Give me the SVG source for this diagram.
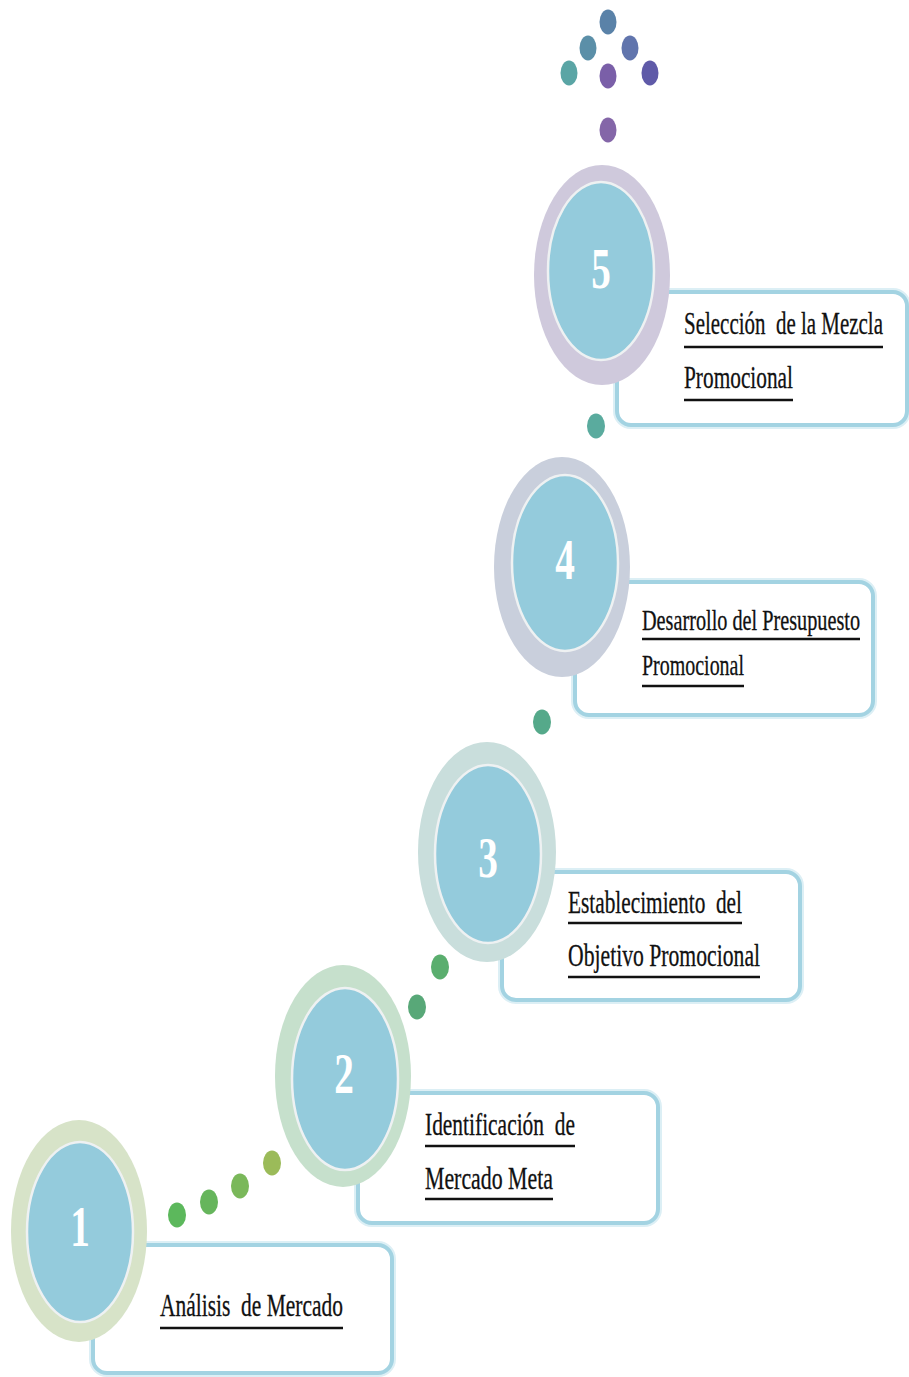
<svg xmlns="http://www.w3.org/2000/svg" width="909" height="1377" viewBox="0 0 909 1377">
  <style>
    .box { fill: #ffffff; stroke: #a3d3e2; stroke-width: 4; }
    .halo { fill: none; stroke: #dceff5; stroke-width: 8; }
    .core { fill: #94cbdc; stroke: #eef1f2; stroke-width: 2.5; }
    .num { font-family: "Liberation Serif", serif; font-size: 56px; font-weight: bold; fill: #ffffff; text-anchor: middle; }
    .lbl { font-family: "Liberation Serif", serif; font-size: 32px; fill: #111111; stroke: #111111; stroke-width: 0.3; }
    .lbl4 { font-size: 30px; }
    .ul { stroke: #111111; stroke-width: 2.5; }
  </style>

  <rect x="0" y="0" width="909" height="1377" fill="#ffffff"/>

  <!-- dotted path connecting the steps -->
  <g id="connectors">
    <ellipse cx="608" cy="22" rx="8.5" ry="12.5" fill="#5a82a8"/>
    <ellipse cx="588" cy="48" rx="8.5" ry="12.5" fill="#5b8fa8"/>
    <ellipse cx="630" cy="48" rx="8.5" ry="12.5" fill="#6175ad"/>
    <ellipse cx="569" cy="73" rx="8.5" ry="12.5" fill="#5aa5a5"/>
    <ellipse cx="608" cy="76" rx="8.5" ry="12.5" fill="#7a5fa8"/>
    <ellipse cx="650" cy="73" rx="8.5" ry="12.5" fill="#5f5aa8"/>
    <ellipse cx="608" cy="130" rx="8.5" ry="12.5" fill="#8466a8"/>
    <ellipse cx="596" cy="426" rx="9" ry="12.5" fill="#5aab9e"/>
    <ellipse cx="542" cy="722" rx="9" ry="12.5" fill="#55a98a"/>
    <ellipse cx="440" cy="967" rx="9" ry="12.5" fill="#5aae6e"/>
    <ellipse cx="417" cy="1007" rx="9" ry="12.5" fill="#58a878"/>
    <ellipse cx="272" cy="1163" rx="9" ry="12.5" fill="#9bbb59"/>
    <ellipse cx="240" cy="1186" rx="9" ry="12.5" fill="#7ab85a"/>
    <ellipse cx="209" cy="1202" rx="9" ry="12.5" fill="#66b55c"/>
    <ellipse cx="177" cy="1215" rx="9" ry="12.5" fill="#5cb85c"/>
  </g>

  <!-- step 5 -->
  <g id="step5">
    <rect class="halo" x="617" y="292" width="290" height="133" rx="14"/>
    <rect class="box" x="617" y="292" width="290" height="133" rx="14"/>
    <ellipse cx="602" cy="275" rx="68" ry="110" fill="#cfc9dc"/>
    <ellipse class="core" cx="601" cy="271" rx="53" ry="89"/>
    <text class="num" transform="translate(601 288) scale(0.7 1)">5</text>
    <text class="lbl" transform="translate(684 334) scale(0.68 1)" textLength="292.6" lengthAdjust="spacingAndGlyphs" xml:space="preserve">Selección  de la Mezcla</text>
    <line class="ul" x1="684" y1="347" x2="883" y2="347"/>
    <text class="lbl" transform="translate(684 388) scale(0.68 1)" textLength="160.3" lengthAdjust="spacingAndGlyphs">Promocional</text>
    <line class="ul" x1="684" y1="400" x2="793" y2="400"/>
  </g>

  <!-- step 4 -->
  <g id="step4">
    <rect class="halo" x="575" y="582" width="298" height="133" rx="14"/>
    <rect class="box" x="575" y="582" width="298" height="133" rx="14"/>
    <ellipse cx="562" cy="567" rx="68" ry="110" fill="#c9cfdc"/>
    <ellipse class="core" cx="565" cy="563" rx="53" ry="88"/>
    <text class="num" transform="translate(565 579) scale(0.7 1)">4</text>
    <text class="lbl lbl4" transform="translate(642 630) scale(0.68 1)" textLength="320.6" lengthAdjust="spacingAndGlyphs">Desarrollo del Presupuesto</text>
    <line class="ul" x1="642" y1="639" x2="860" y2="639"/>
    <text class="lbl lbl4" transform="translate(642 675) scale(0.68 1)" textLength="150" lengthAdjust="spacingAndGlyphs">Promocional</text>
    <line class="ul" x1="642" y1="686" x2="744" y2="686"/>
  </g>

  <!-- step 3 -->
  <g id="step3">
    <rect class="halo" x="502" y="872" width="298" height="128" rx="14"/>
    <rect class="box" x="502" y="872" width="298" height="128" rx="14"/>
    <ellipse cx="487" cy="852" rx="69" ry="110" fill="#c9dedc"/>
    <ellipse class="core" cx="488" cy="854" rx="53" ry="89"/>
    <text class="num" transform="translate(488 877) scale(0.7 1)">3</text>
    <text class="lbl" transform="translate(568 913) scale(0.68 1)" textLength="255.9" lengthAdjust="spacingAndGlyphs" xml:space="preserve">Establecimiento  del</text>
    <line class="ul" x1="568" y1="923" x2="742" y2="923"/>
    <text class="lbl" transform="translate(568 966) scale(0.68 1)" textLength="282.4" lengthAdjust="spacingAndGlyphs">Objetivo Promocional</text>
    <line class="ul" x1="568" y1="977" x2="760" y2="977"/>
  </g>

  <!-- step 2 -->
  <g id="step2">
    <rect class="halo" x="358" y="1093" width="300" height="130" rx="14"/>
    <rect class="box" x="358" y="1093" width="300" height="130" rx="14"/>
    <ellipse cx="343" cy="1076" rx="68" ry="111" fill="#c6e0cc"/>
    <ellipse class="core" cx="345" cy="1079" rx="53" ry="91"/>
    <text class="num" transform="translate(344 1093) scale(0.7 1)">2</text>
    <text class="lbl" transform="translate(425 1135) scale(0.68 1)" textLength="220.6" lengthAdjust="spacingAndGlyphs" xml:space="preserve">Identificación  de</text>
    <line class="ul" x1="425" y1="1146" x2="575" y2="1146"/>
    <text class="lbl" transform="translate(425 1189) scale(0.68 1)" textLength="188.2" lengthAdjust="spacingAndGlyphs">Mercado Meta</text>
    <line class="ul" x1="425" y1="1199" x2="553" y2="1199"/>
  </g>

  <!-- step 1 -->
  <g id="step1">
    <rect class="halo" x="93" y="1245" width="299" height="128" rx="14"/>
    <rect class="box" x="93" y="1245" width="299" height="128" rx="14"/>
    <ellipse cx="79" cy="1231" rx="68" ry="111" fill="#d7e3c8"/>
    <ellipse class="core" cx="80" cy="1232" rx="53" ry="90"/>
    <text class="num" transform="translate(80 1246) scale(0.7 1)">1</text>
    <text class="lbl" transform="translate(160 1316) scale(0.68 1)" textLength="269.1" lengthAdjust="spacingAndGlyphs" xml:space="preserve">Análisis  de Mercado</text>
    <line class="ul" x1="160" y1="1328" x2="343" y2="1328"/>
  </g>
</svg>
